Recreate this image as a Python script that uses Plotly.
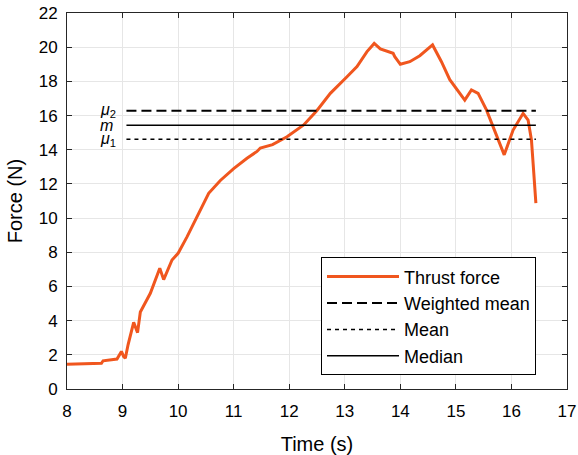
import plotly.graph_objects as go

# Thrust force measurement (time in s, force in N)
time_s = [8.00, 8.30, 8.62, 8.65, 8.90, 8.98, 9.02, 9.05, 9.10, 9.20, 9.27, 9.32,
          9.50, 9.67, 9.74, 9.89, 10.00, 10.16, 10.34, 10.55, 10.76, 11.00, 11.24,
          11.42, 11.48, 11.70, 11.96, 12.26, 12.50, 12.74, 13.04, 13.22, 13.40,
          13.53, 13.64, 13.76, 13.87, 13.90, 14.00, 14.17, 14.35, 14.58, 14.74,
          14.89, 15.04, 15.16, 15.28, 15.40, 15.55, 15.70, 15.87, 16.03, 16.21,
          16.30, 16.36, 16.39, 16.44]
force_n = [1.45, 1.47, 1.50, 1.65, 1.75, 2.20, 1.90, 1.80, 2.60, 3.90, 3.30, 4.50,
           5.60, 7.06, 6.40, 7.55, 7.94, 8.90, 10.10, 11.45, 12.20, 12.90, 13.50,
           13.90, 14.10, 14.30, 14.76, 15.45, 16.30, 17.30, 18.27, 18.86, 19.74,
           20.22, 19.90, 19.74, 19.64, 19.44, 19.00, 19.15, 19.50, 20.13, 19.15,
           18.10, 17.40, 16.90, 17.50, 17.30, 16.33, 15.15, 13.70, 15.15, 16.13,
           15.74, 14.57, 13.20, 10.87]

# Summary statistics and the time span they are drawn over
stat_span = [9.07, 16.44]
weighted_mean = 16.28
mean_value = 14.61
median_value = 15.43

x_ticks = [8, 9, 10, 11, 12, 13, 14, 15, 16, 17]
y_ticks = [0, 2, 4, 6, 8, 10, 12, 14, 16, 18, 20, 22]

FONT = "Liberation Sans, Arial, Helvetica, sans-serif"
ORANGE = "#F0561E"

fig = go.Figure()
fig.add_trace(go.Scatter(x=time_s, y=force_n, mode="lines", name="Thrust force",
                         line=dict(color=ORANGE, width=3), legendgroup="a"))
fig.add_trace(go.Scatter(x=stat_span, y=[weighted_mean] * 2, mode="lines",
                         name="Weighted mean", legendgroup="b",
                         line=dict(color="black", width=2, dash="10px,5px")))
fig.add_trace(go.Scatter(x=stat_span, y=[mean_value] * 2, mode="lines",
                         name="Mean", legendgroup="c",
                         line=dict(color="black", width=1.5, dash="4px,4px")))
fig.add_trace(go.Scatter(x=stat_span, y=[median_value] * 2, mode="lines",
                         name="Median", legendgroup="d",
                         line=dict(color="black", width=1.5)))

# Labels for the statistic lines
for txt, val in [("<i>μ</i><sub>2</sub>", weighted_mean),
                 ("<i>m</i>", median_value),
                 ("<i>μ</i><sub>1</sub>", mean_value)]:
    fig.add_annotation(x=8.56, y=val, xref="x", yref="y", text=txt,
                       showarrow=False, xanchor="left", yanchor="middle",
                       font=dict(family=FONT, size=16, color="black"))

axis_common = dict(
    showline=True, linecolor="#262626", linewidth=1, mirror="ticks",
    ticks="inside", ticklen=5, tickcolor="#262626", tickwidth=1,
    showgrid=True, gridcolor="#E6E6E6", gridwidth=1, zeroline=False,
    automargin=False,
    tickfont=dict(family=FONT, size=17, color="black"),
)

fig.update_xaxes(range=[8, 17], tickvals=x_ticks, ticklabelstandoff=7,
                 title=dict(text="Time (s)", font=dict(family=FONT, size=20, color="black"),
                            standoff=18),
                 **axis_common)
fig.update_yaxes(range=[0, 22], tickvals=y_ticks, ticklabelstandoff=5,
                 title=dict(text="Force (N)", font=dict(family=FONT, size=20, color="black"),
                            standoff=10),
                 **axis_common)

fig.update_layout(
    width=578, height=455,
    margin=dict(l=67, r=11, t=13, b=66),
    paper_bgcolor="white", plot_bgcolor="white",
    font=dict(family=FONT, color="black"),
    legend=dict(x=0.508, y=0.35, xanchor="left", yanchor="top",
                bgcolor="white", bordercolor="black", borderwidth=1,
                font=dict(family=FONT, size=18, color="black"),
                itemwidth=72, tracegroupgap=0),
)

fig.write_html("out.html")
